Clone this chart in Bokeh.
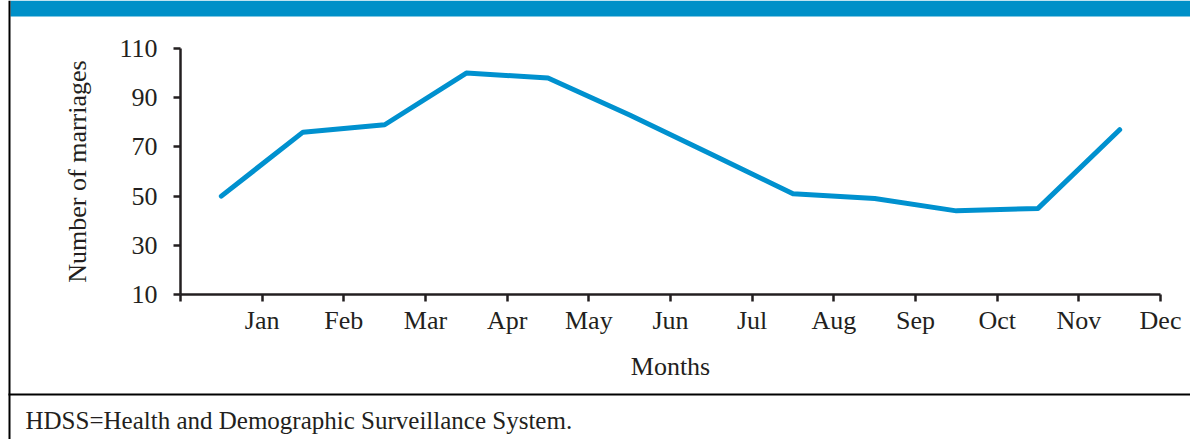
from bokeh.plotting import figure
from bokeh.models import FixedTicker, BoxAnnotation, Label, Range1d, LinearAxis
from bokeh.embed import file_html
from bokeh.resources import INLINE

# ---- data ----
months = ["Jan", "Feb", "Mar", "Apr", "May", "Jun", "Jul", "Aug", "Sep", "Oct", "Nov", "Dec"]
marriages = [50, 76, 79, 100, 98, 83, 67, 51, 49, 44, 45, 77]
y_ticks = [10, 30, 50, 70, 90, 110]
footnote = "HDSS=Health and Demographic Surveillance System."

TXT = "#231F20"
BLUE = "#0091CF"
HEADER = "#0090C8"
FONT = "Liberation Serif"

W, H = 1190, 439
# plot area in canvas pixels
PL, PR, PT, PB = 180, 1160, 48, 294

n = len(months)
x_pos = [i + 0.5 for i in range(n)]

ymin, ymax = y_ticks[0], y_ticks[-1]
xs = (PR - PL) / n                 # px per month
ys = (PB - PT) / (ymax - ymin)     # px per marriage
x_range = Range1d(-PL / xs, n + (W - PR) / xs)
y_range = Range1d(ymin - (H - PB) / ys, ymax + PT / ys)

p = figure(width=W, height=H, output_backend="svg", toolbar_location=None,
           x_range=x_range, y_range=y_range, x_axis_location=None, y_axis_location=None,
           min_border=0)
p.xgrid.visible = False
p.ygrid.visible = False
p.outline_line_color = None
p.background_fill_color = "white"
p.border_fill_color = "white"

xaxis = LinearAxis(fixed_location=ymin, bounds=(0, n),
                   ticker=FixedTicker(ticks=list(range(n + 1))))
xaxis.major_label_overrides = {0: ""} | {i + 1: m for i, m in enumerate(months)}
yaxis = LinearAxis(fixed_location=0, bounds=(ymin, ymax), ticker=FixedTicker(ticks=y_ticks))
for ax in (xaxis, yaxis):
    ax.axis_line_color = TXT
    ax.axis_line_width = 2.5
    ax.major_tick_line_color = TXT
    ax.major_tick_line_width = 2.5
    ax.major_tick_out = 7
    ax.major_tick_in = 0
    ax.minor_tick_line_color = None
    ax.major_label_text_font = FONT
    ax.major_label_text_font_size = "26px"
    ax.major_label_text_color = TXT
    ax.axis_label_text_font = FONT
    ax.axis_label_text_font_size = "26px"
    ax.axis_label_text_font_style = "normal"
    ax.axis_label_text_color = TXT
xaxis.axis_label = "Months"
xaxis.major_label_standoff = 4
xaxis.axis_label_standoff = 14
yaxis.axis_label = "Number of marriages"
yaxis.major_label_standoff = 16
yaxis.axis_label_standoff = 24
p.add_layout(xaxis, "below")
p.add_layout(yaxis, "left")

p.line(x_pos, marriages, line_color=BLUE, line_width=5, line_cap="round", line_join="round")

# decorations in screen units (frame == whole canvas; y measured up from bottom)
def box(x0, x1, y0, y1, color):
    p.add_layout(BoxAnnotation(left=x0, right=x1, top=H - y0, bottom=H - y1,
                               left_units="screen", right_units="screen",
                               top_units="screen", bottom_units="screen",
                               fill_color=color, fill_alpha=1, line_color=None,
                               level="overlay"))

box(10, W, 0, 16, HEADER)     # blue header band
box(8, 10, 0, H, "black")     # left frame rule
box(8, W, 393, 395, "black")  # rule above the note

p.add_layout(Label(x=25, y=H - 406, x_units="screen", y_units="screen", text=footnote,
                   text_font=FONT, text_font_size="25px", text_color=TXT,
                   text_baseline="top"))

open("out.html", "w").write(file_html(p, INLINE))
